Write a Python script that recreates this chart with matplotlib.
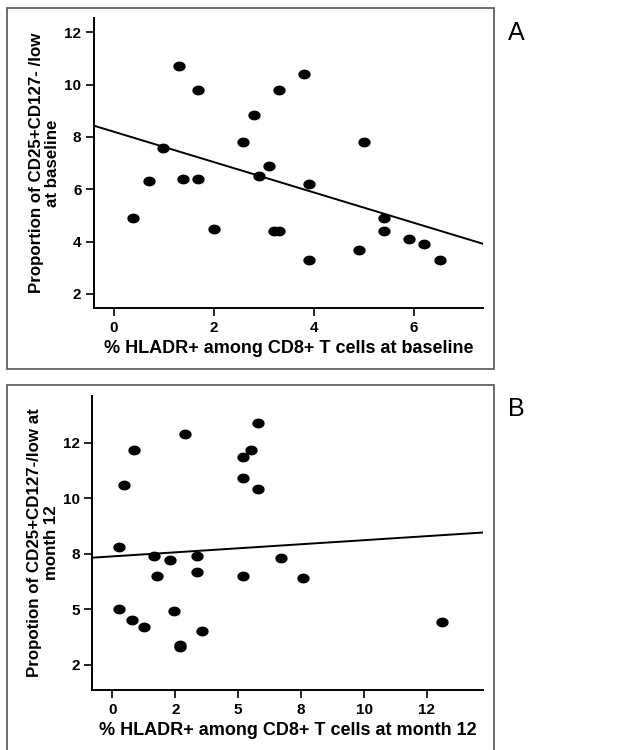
import numpy as np
import matplotlib
matplotlib.use("Agg")
import matplotlib.pyplot as plt
from matplotlib.patches import Rectangle
from matplotlib.path import Path

plt.rcParams['font.family'] = ['Liberation Sans', 'DejaVu Sans']

# panel A: baseline
x_a = [0.38, 0.70, 0.99, 1.30, 1.39, 1.69, 1.69, 2.00, 2.59, 2.80, 2.90, 3.10, 3.21,
       3.31, 3.30, 3.80, 3.91, 3.91, 4.91, 5.01, 5.41, 5.41, 5.91, 6.21, 6.52]
y_a = [4.90, 6.31, 7.59, 10.70, 6.41, 9.80, 6.41, 4.50, 7.81, 8.82, 6.51, 6.90, 4.39,
       4.39, 9.80, 10.41, 6.20, 3.30, 3.69, 7.81, 4.90, 4.39, 4.10, 3.90, 3.30]

# panel B: month 12
x_b = [0.26, 0.26, 0.46, 0.87, 0.78, 1.27, 1.67, 1.77, 2.28, 2.46, 2.69, 2.69, 2.89,
       3.38, 3.38, 3.56, 5.18, 5.50, 5.77, 5.18, 5.77, 5.19, 6.69, 7.58, 13.09]
y_b = [7.80, 5.00, 10.59, 12.18, 4.51, 4.20, 7.39, 6.49, 7.20, 4.90, 3.40, 3.30, 12.89,
       7.39, 6.69, 4.00, 11.88, 12.18, 13.37, 10.89, 10.40, 6.49, 7.29, 6.39, 4.41]

# fit lines (intercept, slope)
fit_a = (8.20, -0.58)
fit_b = (7.38, 0.073)

ticks_a = [0, 2, 4, 6]
yticks_a = [2, 4, 6, 8, 10, 12]
# SPSS rounds 2.5-steps for display
ticks_b = [0, 2.5, 5, 7.5, 10, 12.5]
tick_lbl_b = ["0", "2", "5", "8", "10", "12"]
yticks_b = [2.5, 5, 7.5, 10, 12.5]
ytick_lbl_b = ["2", "5", "8", "10", "12"]

t = np.linspace(0, 2 * np.pi, 40)
dot = Path(np.column_stack([1.3 * np.cos(t), np.sin(t)]))

fig = plt.figure(figsize=(6.35, 7.5), dpi=100)

# outer frames
fig.patches.append(Rectangle((0.0115, 0.508), 0.7665, 0.482, transform=fig.transFigure,
                             fill=False, ec="#555555", lw=1.2))
fig.patches.append(Rectangle((0.0115, -0.05), 0.7665, 0.5367, transform=fig.transFigure,
                             fill=False, ec="#555555", lw=1.2, clip_on=False))

ax1 = fig.add_axes([0.148, 0.589, 0.613, 0.3867])
ax2 = fig.add_axes([0.1454, 0.08, 0.6157, 0.3924])


def style(ax):
    for s in ["top", "right"]:
        ax.spines[s].set_visible(False)
    for s in ["left", "bottom"]:
        ax.spines[s].set_linewidth(1.4)
    ax.tick_params(length=6, width=1.2, labelsize=11, pad=3)
    for lbl in ax.get_xticklabels() + ax.get_yticklabels():
        lbl.set_fontweight("bold")


ax1.scatter(x_a, y_a, s=62, marker=dot, color="black", zorder=3)
ax1.axline((0, fit_a[0]), slope=fit_a[1], color="black", lw=1.4)
ax1.set_xlim(-0.394, 7.39)
ax1.set_ylim(1.454, 12.535)
ax1.set_xticks(ticks_a)
ax1.set_yticks(yticks_a)
ax1.set_xlabel("% HLADR+ among CD8+ T cells at baseline", fontsize=13, fontweight="bold", labelpad=4)
ax1.set_ylabel("Proportion of CD25+CD127- /low\nat baseline", fontsize=12.2, fontweight="bold",
               linespacing=1.12, labelpad=3)
style(ax1)

ax2.scatter(x_b, y_b, s=62, marker=dot, color="black", zorder=3)
ax2.axline((0, fit_b[0]), slope=fit_b[1], color="black", lw=1.4)
ax2.set_xlim(-0.795, 14.74)
ax2.set_ylim(1.36, 14.62)
ax2.set_xticks(ticks_b, tick_lbl_b)
ax2.set_yticks(yticks_b, ytick_lbl_b)
ax2.set_xlabel("% HLADR+ among CD8+ T cells at month 12", fontsize=13, fontweight="bold", labelpad=4)
ax2.set_ylabel("Propotion of CD25+CD127-/low at\nmonth 12", fontsize=12.2, fontweight="bold",
               linespacing=1.12, labelpad=3)
style(ax2)

fig.text(0.800, 0.956, "A", fontsize=18, va="center", ha="left")
fig.text(0.800, 0.455, "B", fontsize=18, va="center", ha="left")

fig.savefig("out.png", dpi=100)
